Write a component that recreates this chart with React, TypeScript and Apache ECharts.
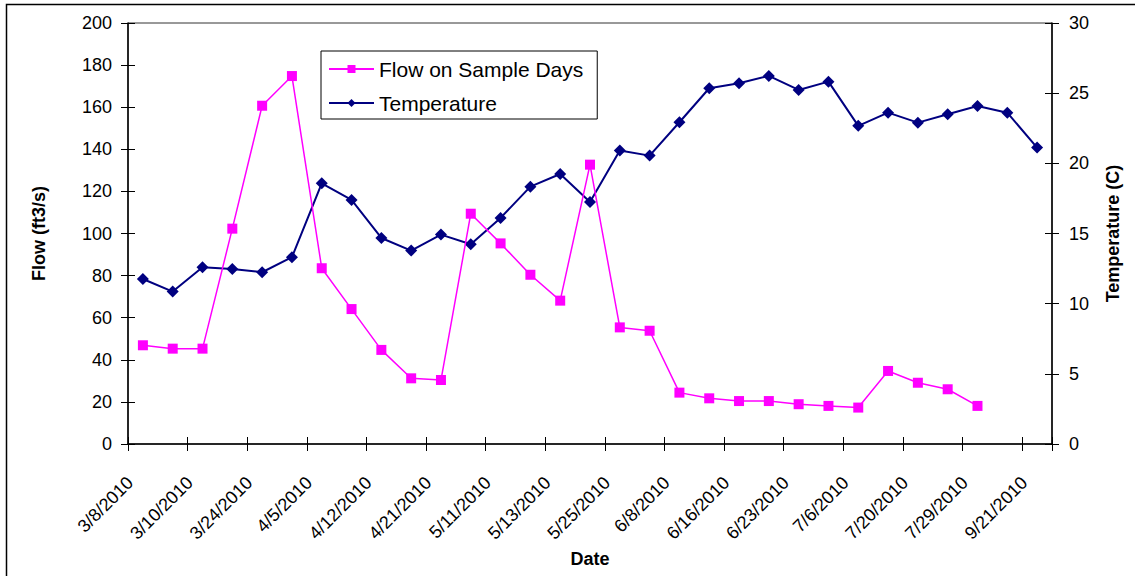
import { useEffect, useRef } from "react";
import * as echarts from "echarts";

// Sample dates shown under every other point on the category axis
const dateLabels = [
  "3/8/2010", "3/10/2010", "3/24/2010", "4/5/2010", "4/12/2010", "4/21/2010",
  "5/11/2010", "5/13/2010", "5/25/2010", "6/8/2010", "6/16/2010", "6/23/2010",
  "7/6/2010", "7/20/2010", "7/29/2010", "9/21/2010",
];

// Flow (ft3/s) on sample days; the last two dates have no flow value
const flowValues: (number | null)[] = [
  46.9, 45.3, 45.3, 102.3, 160.7, 174.8, 83.5, 64.1, 44.7, 31.2, 30.4,
  109.4, 95.3, 80.4, 68.1, 132.7, 55.4, 53.8, 24.4, 21.7, 20.4,
  20.4, 18.9, 18.1, 17.3, 34.7, 29.1, 26.0, 18.1, null, null,
];

// Water temperature (C)
const temperatureValues = [
  11.76, 10.86, 12.59, 12.47, 12.24, 13.31, 18.58, 17.39, 14.68, 13.78, 14.92,
  14.23, 16.11, 18.34, 19.24, 17.25, 20.91, 20.55, 22.93, 25.35, 25.71,
  26.23, 25.23, 25.82, 22.67, 23.61, 22.90, 23.50, 24.09, 23.61, 21.12,
];

// One category per point; only every other one carries a date label
const categories: string[] = [];
dateLabels.forEach((d, i) => {
  categories.push(d);
  if (i < dateLabels.length - 1) categories.push("");
});

const FONT = "'Liberation Sans', Arial, sans-serif";

export default function App() {
  const ref = useRef<HTMLDivElement>(null);

  useEffect(() => {
    if (!ref.current) return;
    const chart = echarts.init(ref.current, undefined, { renderer: "svg" });

    const baseY = {
      type: "value" as const,
      axisLine: { show: true, lineStyle: { color: "#000", width: 1.5 } },
      splitLine: { show: false },
    };

    chart.setOption({
      animation: false,
      backgroundColor: "#fff",
      textStyle: { fontFamily: FONT, color: "#000" },
      grid: {
        left: 128,
        right: 83,
        top: 23,
        bottom: 132,
        show: true,
        borderColor: "#333",
        borderWidth: 1,
        backgroundColor: "transparent",
      },
      legend: {
        left: 321,
        top: 51,
        orient: "vertical",
        backgroundColor: "#fff",
        borderColor: "#000",
        borderWidth: 1,
        borderRadius: 0,
        padding: [6, 14, 4, 7],
        itemWidth: 45,
        itemHeight: 10,
        itemGap: 10,
        textStyle: { fontFamily: FONT, fontSize: 21, color: "#000", lineHeight: 24 },
        data: ["Flow on Sample Days", "Temperature"],
      },
      xAxis: [
        {
          type: "category",
          data: categories,
          boundaryGap: true,
          name: "Date",
          nameLocation: "middle",
          nameGap: 103,
          nameTextStyle: { fontFamily: FONT, fontSize: 18, fontWeight: "bold", color: "#000" },
          axisLine: { show: true, lineStyle: { color: "#000", width: 1.5 } },
          axisTick: { show: true, interval: 1, length: 7, lineStyle: { color: "#000" } },
          axisLabel: {
            interval: 1,
            rotate: 45,
            margin: 23,
            padding: [0, 18, 0, 0],
            fontFamily: FONT,
            fontSize: 18,
            color: "#000",
          },
        },
        {
          // inner half of the crossing tick marks
          type: "category",
          data: categories,
          boundaryGap: true,
          position: "bottom",
          axisLine: { show: false },
          axisTick: { show: true, inside: true, interval: 1, length: 7, lineStyle: { color: "#000" } },
          axisLabel: { show: false },
        },
      ],
      yAxis: [
        {
          ...baseY,
          position: "left",
          min: 0,
          max: 200,
          interval: 20,
          name: "Flow (ft3/s)",
          nameLocation: "middle",
          nameRotate: 90,
          nameGap: 80,
          nameTextStyle: { fontFamily: FONT, fontSize: 18, fontWeight: "bold", color: "#000" },
          axisTick: { show: true, length: 7, lineStyle: { color: "#000" } },
          axisLabel: { margin: 16, fontFamily: FONT, fontSize: 18, color: "#000" },
        },
        {
          ...baseY,
          position: "right",
          min: 0,
          max: 30,
          interval: 5,
          name: "Temperature (C)",
          nameLocation: "middle",
          nameRotate: 90,
          nameGap: 52,
          nameTextStyle: { fontFamily: FONT, fontSize: 18, fontWeight: "bold", color: "#000" },
          axisTick: { show: true, length: 7, lineStyle: { color: "#000" } },
          axisLabel: { margin: 17, fontFamily: FONT, fontSize: 18, color: "#000" },
        },
        {
          ...baseY,
          position: "left",
          min: 0,
          max: 200,
          interval: 20,
          axisLine: { show: false },
          axisTick: { show: true, inside: true, length: 7, lineStyle: { color: "#000" } },
          axisLabel: { show: false },
        },
        {
          ...baseY,
          position: "right",
          min: 0,
          max: 30,
          interval: 5,
          axisLine: { show: false },
          axisTick: { show: true, inside: true, length: 7, lineStyle: { color: "#000" } },
          axisLabel: { show: false },
        },
      ],
      series: [
        {
          name: "Flow on Sample Days",
          type: "line",
          xAxisIndex: 0,
          yAxisIndex: 0,
          data: flowValues,
          symbol: "rect",
          symbolSize: 10,
          connectNulls: false,
          lineStyle: { color: "#FF00FF", width: 1.5 },
          itemStyle: { color: "#FF00FF" },
          z: 3,
        },
        {
          name: "Temperature",
          type: "line",
          xAxisIndex: 0,
          yAxisIndex: 1,
          data: temperatureValues,
          symbol: "diamond",
          symbolSize: 12,
          lineStyle: { color: "#000080", width: 2 },
          itemStyle: { color: "#000080" },
          z: 2,
        },
      ],
      graphic: [
        {
          type: "rect",
          shape: { x: 6.5, y: 4.5, width: 1200, height: 640 },
          style: { fill: "none", stroke: "#000", lineWidth: 1.5 },
          silent: true,
          z: -10,
        },
      ],
    });

    return () => chart.dispose();
  }, []);

  return (
    <div
      ref={ref}
      style={{ position: "fixed", left: 0, top: 0, width: 1135, height: 576 }}
    />
  );
}
